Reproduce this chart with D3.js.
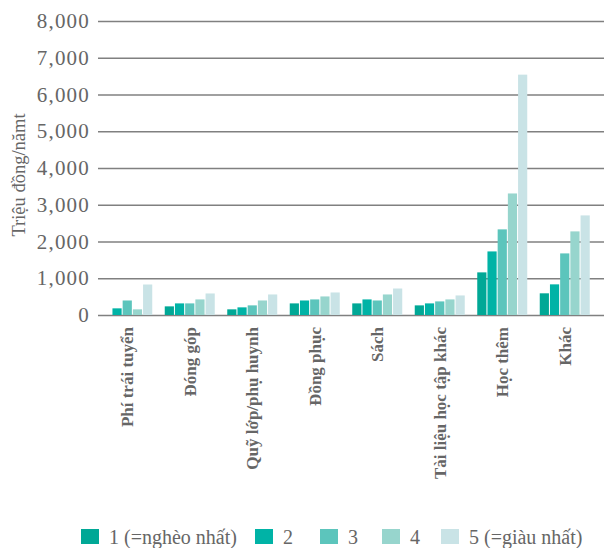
<!DOCTYPE html>
<html>
<head>
<meta charset="utf-8">
<script src="https://cdn.jsdelivr.net/npm/d3@7"></script>
<style>
  body { margin: 0; background: #fff; }
  svg { display: block; }
</style>
</head>
<body>
<svg id="chart" width="607" height="548"></svg>
<script>
// Spending categories (x axis)
const categories = ["Phí trái tuyển", "Đóng góp", "Quỹ lớp/phụ huynh", "Đồng phục", "Sách", "Tài liệu học tập khác", "Học thêm", "Khác"];
// Income quintiles
const quintiles = ["1 (=nghèo nhất)", "2", "3", "4", "5 (=giàu nhất)"];
// Values per quintile, in category order (triệu đồng/năm)
const q1 = [0, 235, 154, 316, 316, 262, 1160, 590];
const q2 = [181, 316, 208, 395, 424, 316, 1730, 834];
const q3 = [395, 316, 262, 424, 395, 370, 2330, 1676];
const q4 = [154, 424, 395, 505, 559, 424, 3307, 2275];
const q5 = [830, 586, 559, 613, 721, 532, 6540, 2710];
const seriesValues = [q1, q2, q3, q4, q5];
const yTicks = [0, 1000, 2000, 3000, 4000, 5000, 6000, 7000, 8000];
const colors = ["#00a896", "#00b3a6", "#5cc5bc", "#97d5cd", "#c9e3e6"];

const FONT = '"Liberation Serif", "Times New Roman", serif';
const TEXT_COLOR = "#666";

const svg = d3.select("#chart");
const plotLeft = 98, plotRight = 604, plotTop = 21, plotBottom = 315;

const y = d3.scaleLinear().domain([0, 8000]).range([plotBottom, plotTop]);
const x0 = d3.scaleBand().domain(categories).range([96, 596]).paddingInner(0.2).paddingOuter(0.1);
const x1 = d3.scaleBand().domain(d3.range(quintiles.length)).range([0, x0.bandwidth()]).paddingInner(0.1);

// Horizontal gridlines and tick labels
const yAxis = d3.axisLeft(y).tickValues(yTicks).tickFormat(d3.format(",")).tickSize(-(plotRight - plotLeft)).tickPadding(8);
const gy = svg.append("g").attr("transform", `translate(${plotLeft},0)`).call(yAxis);
gy.select(".domain").remove();
gy.selectAll(".tick line").attr("stroke", "#808080").attr("stroke-width", 1.6);
gy.selectAll(".tick text").style("font-size", "21px").style("letter-spacing", "1.2px");

// Bars
const groups = svg.append("g").selectAll("g")
  .data(categories).join("g")
  .attr("transform", d => `translate(${x0(d)},0)`);
groups.selectAll("rect")
  .data((c, ci) => seriesValues.map((s, si) => ({ si, v: s[ci] })))
  .join("rect")
  .attr("x", d => x1(d.si))
  .attr("width", x1.bandwidth())
  .attr("y", d => y(d.v))
  .attr("height", d => plotBottom - y(d.v))
  .attr("fill", d => colors[d.si]);

// Category labels, rotated
const xAxis = d3.axisBottom(x0).tickSize(0).tickPadding(0);
const gx = svg.append("g").attr("transform", `translate(0,${plotBottom})`).call(xAxis);
gx.select(".domain").remove();
gx.selectAll(".tick text")
  .attr("transform", "rotate(-90)")
  .attr("x", -12)
  .attr("y", 0)
  .attr("dy", "0.35em")
  .attr("text-anchor", "end")
  .style("font-size", "17px")
  .style("font-weight", "bold");

// Y axis title
svg.append("text")
  .attr("transform", "translate(25,175) rotate(-90)")
  .attr("text-anchor", "middle")
  .style("font-size", "18.5px")
  .text("Triệu đồng/nămt");

// Legend
const legendX = [81, 255, 320, 382, 441];
const legend = svg.append("g").selectAll("g")
  .data(quintiles).join("g")
  .attr("transform", (d, i) => `translate(${legendX[i]},529)`);
legend.append("rect").attr("width", 18).attr("height", 15).attr("fill", (d, i) => colors[i]);
legend.append("text").attr("x", 28).attr("y", 15).style("font-size", "20px").text(d => d);

// Shared text styling
svg.selectAll("text").style("font-family", FONT).style("fill", TEXT_COLOR);
</script>
</body>
</html>
